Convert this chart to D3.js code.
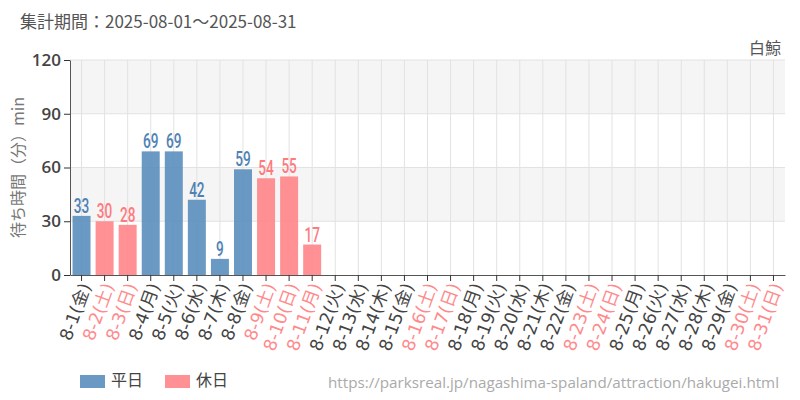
<!DOCTYPE html>
<html><head><meta charset="utf-8">
<script src="https://cdn.jsdelivr.net/npm/d3@7"></script>
<style>body{margin:0;background:#fff}svg{display:block}</style>
</head><body>
<svg id="c" width="800" height="400"></svg>
<script>
const days = ["8-1","8-2","8-3","8-4","8-5","8-6","8-7","8-8","8-9","8-10","8-11","8-12","8-13","8-14","8-15","8-16","8-17","8-18","8-19","8-20","8-21","8-22","8-23","8-24","8-25","8-26","8-27","8-28","8-29","8-30","8-31"];
const weekdays = ["金","土","日","月","火","水","木","金","土","日","月","火","水","木","金","土","日","月","火","水","木","金","土","日","月","火","水","木","金","土","日"];
const holiday = [0,1,1,0,0,0,0,0,1,1,1,0,0,0,0,1,1,0,0,0,0,0,1,1,0,0,0,0,0,1,1];
const values = [33,30,28,69,69,42,9,59,54,55,17,null,null,null,null,null,null,null,null,null,null,null,null,null,null,null,null,null,null,null,null];
const yTicks = [0,30,60,90,120];
const legendLabels = ["平日","休日"];
const title = "集計期間：2025-08-01～2025-08-31";
const attraction = "白鯨";
const yLabel = "待ち時間（分）min";
const url = "https://parksreal.jp/nagashima-spaland/attraction/hakugei.html";

const C = {wd:"#5a8fbd", hd:"#ff8589", wdText:"#4f82b4", hdText:"#ff7a7e", wdTick:"#444", hdTick:"#ff8a8c"};
const svg = d3.select("#c");
const m = {l:70, r:785, t:60, b:275};
const x = d3.scaleBand().domain(days).range([m.l, m.r]).paddingInner(0.22).paddingOuter(0.11);
const y = d3.scaleLinear().domain([0,120]).range([m.b, m.t]);

svg.selectAll("rect.band").data([[90,120],[30,60]]).join("rect")
  .attr("x", m.l).attr("width", m.r-m.l)
  .attr("y", d=>y(d[1])).attr("height", d=>y(d[0])-y(d[1]))
  .attr("fill","#f5f5f5");

const xc = d => x(d)+x.bandwidth()/2;
svg.append("g").selectAll("line").data(days).join("line")
  .attr("x1", xc).attr("x2", xc).attr("y1", m.t).attr("y2", m.b)
  .attr("stroke","#e2e2e2").attr("stroke-width",1);
svg.append("g").selectAll("line").data(yTicks.slice(1)).join("line")
  .attr("x1", m.l).attr("x2", m.r).attr("y1", d=>y(d)).attr("y2", d=>y(d))
  .attr("stroke","#e2e2e2").attr("stroke-width",1);

const data = days.map((d,i)=>({d, v:values[i], h:holiday[i], w:weekdays[i]}));
svg.append("g").selectAll("rect").data(data.filter(d=>d.v!=null)).join("rect")
  .attr("x", d=>x(d.d)).attr("width", x.bandwidth())
  .attr("y", d=>y(d.v)).attr("height", d=>y(0)-y(d.v))
  .attr("fill", d=>d.h?C.hd:C.wd).attr("fill-opacity",0.9);
svg.append("g").selectAll("text").data(data.filter(d=>d.v!=null)).join("text")
  .attr("transform", d=>`translate(${xc(d.d)},${y(d.v)-3}) scale(0.68,1)`)
  .attr("text-anchor","middle")
  .attr("font-family","Roboto, sans-serif")
  .attr("font-size",20).attr("font-weight","500")
  .attr("fill", d=>d.h?C.hdText:C.wdText)
  .text(d=>d.v);

const ya = svg.append("g").attr("transform",`translate(${m.l},0)`)
  .call(d3.axisLeft(y).tickValues(yTicks).tickSize(6).tickSizeOuter(0));
ya.select(".domain").attr("stroke","#555");
ya.selectAll(".tick line").attr("stroke","#333");
ya.selectAll("text").attr("font-family","'Open Sans', sans-serif").attr("font-size",17)
  .attr("font-weight","600").attr("fill","#444");

const xa = svg.append("g").attr("transform",`translate(0,${m.b})`)
  .call(d3.axisBottom(x).tickSize(6).tickSizeOuter(0));
xa.select(".domain").attr("stroke","#555");
xa.selectAll(".tick line").attr("stroke","#333");
xa.selectAll(".tick text").remove();
xa.selectAll(".tick").append("text")
  .attr("transform","translate(5,9) rotate(-70)")
  .attr("text-anchor","end")
  .attr("dominant-baseline","middle")
  .attr("font-family","'DejaVu Sans', 'Noto Sans CJK JP', sans-serif")
  .attr("font-size",17.5)
  .attr("fill",(d,i)=>holiday[i]?C.hdTick:C.wdTick)
  .text((d,i)=>`${d}(${weekdays[i]})`);

svg.append("text").attr("x",20).attr("y",28).attr("font-family","'Noto Sans CJK JP', sans-serif")
  .attr("font-size",17).attr("fill","#555").text(title);
svg.append("text").attr("x",781).attr("y",54).attr("text-anchor","end").attr("font-family","'Noto Sans CJK JP', sans-serif")
  .attr("font-size",16).attr("fill","#555").text(attraction);
svg.append("text").attr("transform",`translate(24,${(m.t+m.b)/2}) rotate(-90)`).attr("text-anchor","middle")
  .attr("font-family","'Noto Sans CJK JP', sans-serif").attr("font-size",16).attr("fill","#777").text(yLabel);

const lg = svg.append("g").selectAll("g").data(legendLabels).join("g")
  .attr("transform",(d,i)=>`translate(${80+i*85},375)`);
lg.append("rect").attr("width",25).attr("height",13).attr("fill",(d,i)=>i?C.hd:C.wd).attr("fill-opacity",0.9);
lg.append("text").attr("x",31).attr("y",7).attr("dominant-baseline","middle")
  .attr("font-family","'Noto Sans CJK JP', sans-serif").attr("font-size",16).attr("fill","#444").text(d=>d);

svg.append("text").attr("x",779).attr("y",388).attr("text-anchor","end")
  .attr("font-family","'Open Sans', sans-serif").attr("font-size",15.2).attr("fill","#aaa").text(url);
</script>
</body></html>
